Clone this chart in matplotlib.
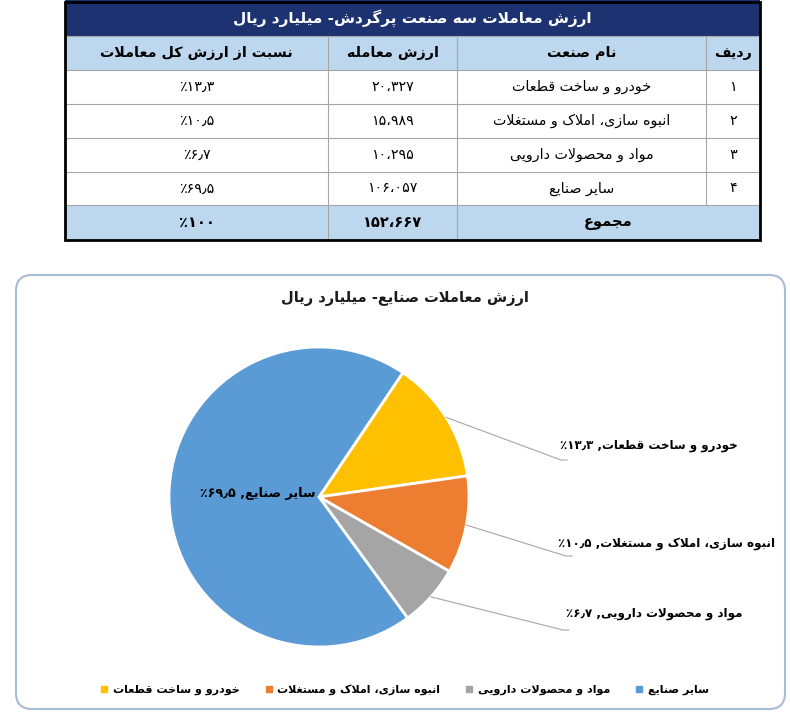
import re
import matplotlib
matplotlib.use("Agg")
import matplotlib.pyplot as plt
from matplotlib.patches import Rectangle, FancyBboxPatch
from matplotlib.lines import Line2D
import numpy as np

W, H = 790, 715

# ---- data ----
table_title = "ارزش معاملات سه صنعت پرگردش- میلیارد ریال"
headers = ["نسبت از ارزش کل معاملات", "ارزش معامله", "نام صنعت", "ردیف"]
industries = ["خودرو و ساخت قطعات", "انبوه سازی، املاک و مستغلات",
              "مواد و محصولات دارویی", "سایر صنایع"]
trade_values = [20327, 15989, 10295, 106057]
shares = [13.3, 10.5, 6.7, 69.5]
total_label = "مجموع"
total_value = 152667
total_share = 100

chart_title = "ارزش معاملات صنایع- میلیارد ریال"
colors = ["#FFC000", "#ED7D31", "#A5A5A5", "#5B9BD5"]

# ---- minimal persian shaping (matplotlib draws glyphs left to right) ----
DUAL = set("بپتثجچحخسشصضطظعغفقکگلمنهیئيك")
FORMS = {
    "ا": (0xFE8D, 0xFE8E), "آ": (0xFE81, 0xFE82), "أ": (0xFE83, 0xFE84),
    "إ": (0xFE87, 0xFE88), "د": (0xFEA9, 0xFEAA), "ذ": (0xFEAB, 0xFEAC),
    "ر": (0xFEAD, 0xFEAE), "ز": (0xFEAF, 0xFEB0), "ژ": (0xFB8A, 0xFB8B),
    "و": (0xFEED, 0xFEEE), "ؤ": (0xFE85, 0xFE86), "ة": (0xFE93, 0xFE94),
    "ب": (0xFE8F, 0xFE90, 0xFE91, 0xFE92), "پ": (0xFB56, 0xFB57, 0xFB58, 0xFB59),
    "ت": (0xFE95, 0xFE96, 0xFE97, 0xFE98), "ث": (0xFE99, 0xFE9A, 0xFE9B, 0xFE9C),
    "ج": (0xFE9D, 0xFE9E, 0xFE9F, 0xFEA0), "چ": (0xFB7A, 0xFB7B, 0xFB7C, 0xFB7D),
    "ح": (0xFEA1, 0xFEA2, 0xFEA3, 0xFEA4), "خ": (0xFEA5, 0xFEA6, 0xFEA7, 0xFEA8),
    "س": (0xFEB1, 0xFEB2, 0xFEB3, 0xFEB4), "ش": (0xFEB5, 0xFEB6, 0xFEB7, 0xFEB8),
    "ص": (0xFEB9, 0xFEBA, 0xFEBB, 0xFEBC), "ض": (0xFEBD, 0xFEBE, 0xFEBF, 0xFEC0),
    "ط": (0xFEC1, 0xFEC2, 0xFEC3, 0xFEC4), "ظ": (0xFEC5, 0xFEC6, 0xFEC7, 0xFEC8),
    "ع": (0xFEC9, 0xFECA, 0xFECB, 0xFECC), "غ": (0xFECD, 0xFECE, 0xFECF, 0xFED0),
    "ف": (0xFED1, 0xFED2, 0xFED3, 0xFED4), "ق": (0xFED5, 0xFED6, 0xFED7, 0xFED8),
    "ک": (0xFB8E, 0xFB8F, 0xFB90, 0xFB91), "ك": (0xFED9, 0xFEDA, 0xFEDB, 0xFEDC),
    "گ": (0xFB92, 0xFB93, 0xFB94, 0xFB95), "ل": (0xFEDD, 0xFEDE, 0xFEDF, 0xFEE0),
    "م": (0xFEE1, 0xFEE2, 0xFEE3, 0xFEE4), "ن": (0xFEE5, 0xFEE6, 0xFEE7, 0xFEE8),
    "ه": (0xFEE9, 0xFEEA, 0xFEEB, 0xFEEC), "ی": (0xFBFC, 0xFBFD, 0xFBFE, 0xFBFF),
    "ي": (0xFEF1, 0xFEF2, 0xFEF3, 0xFEF4), "ئ": (0xFE89, 0xFE8A, 0xFE8B, 0xFE8C),
}
LAM_ALEF = {"ا": (0xFEFB, 0xFEFC), "آ": (0xFEF5, 0xFEF6),
            "أ": (0xFEF7, 0xFEF8), "إ": (0xFEF9, 0xFEFA)}


def shape(s):
    out, i = [], 0
    while i < len(s):
        c = s[i]
        if c not in FORMS:
            out.append(c)
            i += 1
            continue
        p = i > 0 and s[i - 1] in DUAL
        if c == "ل" and i + 1 < len(s) and s[i + 1] in LAM_ALEF:
            iso, fin = LAM_ALEF[s[i + 1]]
            out.append(chr(fin if p else iso))
            i += 2
            continue
        nxt = s[i + 1] if i + 1 < len(s) else ""
        q = c in DUAL and nxt in FORMS
        f = FORMS[c]
        if len(f) == 2:
            out.append(chr(f[1] if p else f[0]))
        else:
            out.append(chr(f[3] if (p and q) else f[1] if p else f[2] if q else f[0]))
        i += 1
    return "".join(out)


def rtl(s):
    s = shape(s)
    segs = re.findall(r"\d+(?:[٫،,.]\d+)*|\D+", s)
    return "".join(g if g[0].isdigit() else g[::-1] for g in reversed(segs))


FA = str.maketrans("0123456789", "۰۱۲۳۴۵۶۷۸۹")


def fa_int(v):
    return f"{v:,}".replace(",", "،").translate(FA)


def fa_pct(v, nd=1):
    return f"{v:.{nd}f}".replace(".", "٫").translate(FA) + "٪"


plt.rcParams["font.family"] = ["DejaVu Sans"]

fig = plt.figure(figsize=(W / 100, H / 100), dpi=100)
ax = fig.add_axes([0, 0, 1, 1])


def Y(y):
    return H - y


# ---- table ----
xe = [65, 328, 457, 706, 760]
ye = [0, 36, 70, 104, 138, 172, 205, 240]
xc = [(xe[i] + xe[i + 1]) / 2 for i in range(4)]
grid = "#A6A6A6"

ax.add_patch(Rectangle((xe[0], Y(ye[1])), xe[-1] - xe[0], ye[1] - ye[0],
                       fc="#1D3270", ec="none", zorder=1))
ax.add_patch(Rectangle((xe[0], Y(ye[2])), xe[-1] - xe[0], ye[2] - ye[1],
                       fc="#BDD7EE", ec="none", zorder=1))
ax.add_patch(Rectangle((xe[0], Y(ye[7])), xe[-1] - xe[0], ye[7] - ye[6],
                       fc="#BDD7EE", ec="none", zorder=1))
for y in ye[1:7]:
    ax.plot([xe[0], xe[-1]], [Y(y), Y(y)], color=grid, lw=0.8, zorder=2)
for j, x in enumerate(xe[1:4]):
    bottom = ye[7] if j < 2 else ye[6]
    ax.plot([x, x], [Y(ye[1]), Y(bottom)], color=grid, lw=0.8, zorder=2)
ax.add_patch(Rectangle((xe[0], Y(ye[7])), xe[-1] - xe[0], ye[7] - 1.5,
                       fc="none", ec="black", lw=2, zorder=3))

ax.text((xe[0] + xe[-1]) / 2, Y(18), rtl(table_title), color="white",
        fontsize=11, fontweight="bold", ha="center", va="center", zorder=4)
for x, h in zip(xc, headers):
    ax.text(x, Y(53), rtl(h), fontsize=10.3, fontweight="bold",
            ha="center", va="center", zorder=4)
for i in range(4):
    yc = Y((ye[i + 2] + ye[i + 3]) / 2)
    cells = [fa_pct(shares[i]), fa_int(trade_values[i]), industries[i],
             str(i + 1).translate(FA)]
    for x, c in zip(xc, cells):
        ax.text(x, yc, rtl(c), fontsize=10.3, ha="center", va="center", zorder=4)
yc = Y((ye[6] + ye[7]) / 2)
ax.text(xc[0], yc, rtl(fa_pct(total_share, 0)), fontsize=10.5, fontweight="bold",
        ha="center", va="center", zorder=4)
ax.text(xc[1], yc, rtl(fa_int(total_value)), fontsize=10.5, fontweight="bold",
        ha="center", va="center", zorder=4)
ax.text((xe[2] + xe[4]) / 2, yc, rtl(total_label), fontsize=10.5,
        fontweight="bold", ha="center", va="center", zorder=4)

# ---- chart box ----
ax.add_patch(FancyBboxPatch((16, Y(709)), 769, 434,
                            boxstyle="round,pad=0,rounding_size=16",
                            fc="white", ec="#A9BCD6", lw=1.5, zorder=0))
ax.text(405, Y(298), rtl(chart_title), fontsize=10.5, fontweight="bold",
        ha="center", va="center", color="#1a1a1a")

cx, cy, r = 319, Y(497), 150
wedges, _ = ax.pie(shares, colors=colors, startangle=56, counterclock=False,
                   center=(cx, cy), radius=r,
                   wedgeprops=dict(edgecolor="white", linewidth=2))
for w in wedges:
    w.set_zorder(2)

# leader labels (outside) for the first three slices, inside label for the last
label_pos = [(560, 446, 561, 460), (558, 543, 566, 556), (566, 614, 563, 630)]
for w, name, s, (tx, ty, lx, ly) in zip(wedges[:3], industries, shares, label_pos):
    mid = np.deg2rad((w.theta1 + w.theta2) / 2)
    sx, sy = cx + r * np.cos(mid), cy + r * np.sin(mid)
    ax.plot([sx, lx, lx + 6], [sy, Y(ly), Y(ly)], color=grid, lw=0.8, zorder=3)
    ax.text(tx, Y(ty), rtl(f"{name}, {fa_pct(s)}"), fontsize=8.6,
            fontweight="bold", ha="left", va="center", zorder=4)
ax.text(258, Y(494), rtl(f"{industries[3]}, {fa_pct(shares[3])}"), fontsize=9.2,
        fontweight="bold", ha="center", va="center", zorder=4)

handles = [Line2D([], [], marker="s", linestyle="", color=c, markersize=4.5)
           for c in colors]
leg = ax.legend(handles, [rtl(n) for n in industries], ncol=4, frameon=False,
                loc="center", bbox_to_anchor=(405 / W, Y(690) / H),
                bbox_transform=fig.transFigure, handlelength=0.6,
                handletextpad=0.5, columnspacing=2.3,
                prop=dict(size=8, weight="bold"))

ax.set_xlim(0, W)
ax.set_ylim(0, H)
ax.set_aspect("equal")
ax.axis("off")

fig.savefig("out.png", dpi=100, facecolor="white")
